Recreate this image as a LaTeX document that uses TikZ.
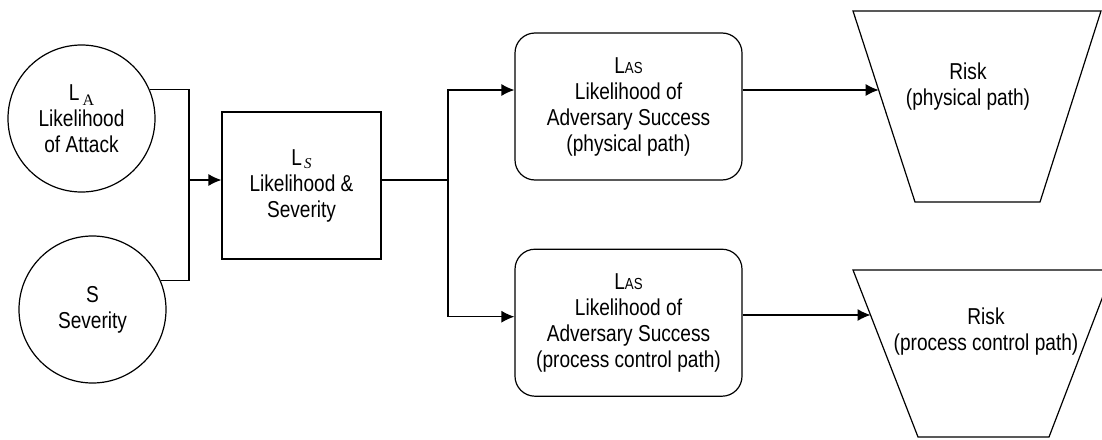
\documentclass[tikz,border=0pt]{standalone}
\usepackage{fontspec}
\setmainfont{Liberation Sans}[FakeStretch=0.83]
\newfontfamily\serifsub{Liberation Serif}
\usepackage{tikz}
\usetikzlibrary{shapes,arrows.meta,positioning,calc}
\tikzstyle{factor} = [circle, draw=black, line width=1.2pt, minimum size=147pt, inner sep=0pt, align=center]
\tikzstyle{stage} = [rectangle, draw=black, line width=1.2pt, minimum width=159pt, minimum height=147pt, align=center]
\tikzstyle{success} = [rectangle, rounded corners=20pt, draw=black, line width=1.2pt, minimum width=227pt, minimum height=147pt, align=center]
\tikzstyle{riskshape} = [draw=black, line width=1.2pt, line join=miter]
\tikzstyle{risktext} = [align=center, inner sep=0pt]
\tikzstyle{tedge} = [draw, line width=1.2pt, -{Latex[length=13pt,width=12pt]}]
\tikzstyle{wire} = [draw, line width=1.2pt]
\newcommand{\sublabel}[2]{L\hspace{#1}\raisebox{-#2}}

\begin{document}
\begin{tikzpicture}[x=1pt, y=-1pt, font=\fontsize{23}{26}\selectfont]
\clip (0,0) rectangle (1102,439);

% input factors ==============================
\node[factor] (la) at (81.5,118.5) {\sublabel{3pt}{5pt}{\fontsize{16}{16}\serifsub A}\\Likelihood\\of Attack};
\node[factor] (sev) at (92.5,309.5) {S\\Severity};

% likelihood & severity
\node[stage] (ls) at (301.5,185.5) {\sublabel{2pt}{3pt}{\fontsize{15}{15}\serifsub\itshape S}\\Likelihood \&\\Severity};

% adversary success
\node[success] (las1) at (628.5,106.5) {L{\fontsize{16}{16}\selectfont AS}\\Likelihood of\\Adversary Success\\(physical path)};
\node[success, below=68pt of las1] (las2) {L{\fontsize{16}{16}\selectfont AS}\\Likelihood of\\Adversary Success\\(process control path)};

% risk =======================================
\coordinate (r1a) at (853,11);
\coordinate (r1b) at (1101,11);
\coordinate (r1c) at (1040,202);
\coordinate (r1d) at (915,202);
\draw[riskshape] (r1a) -- (r1b) -- (r1c) -- (r1d) -- cycle;
\node[risktext] (risk1) at (968,87) {Risk\\(physical path)};

\coordinate (r2a) at (853,270);
\coordinate (r2b) at (1113,270);
\coordinate (r2c) at (1049,437);
\coordinate (r2d) at (918,437);
\draw[riskshape] (r2a) -- (r2b) -- (r2c) -- (r2d) -- cycle;
\node[risktext] (risk2) at (986,332) {Risk\\(process control path)};

% edges
\coordinate (join) at (189,180);
\coordinate (split) at (448,180);
\coordinate (r1in) at ($(r1a)!0.4136!(r1d)$);
\coordinate (r2in) at ($(r2a)!0.2695!(r2d)$);

\path[wire] (la.23) -| (join) |- (sev.23);
\path[tedge] (join) -- (join -| ls.west);
\path[wire] (ls.east |- split) -- (split);
\path[tedge] (split) |- ([yshift=16.5pt]las1.west);
\path[tedge] (split) |- ([yshift=6pt]las2.west);
\path[tedge] (r1in -| las1.east) -- (r1in);
\path[tedge] (r2in -| las2.east) -- (r2in);

\end{tikzpicture}
\end{document}
